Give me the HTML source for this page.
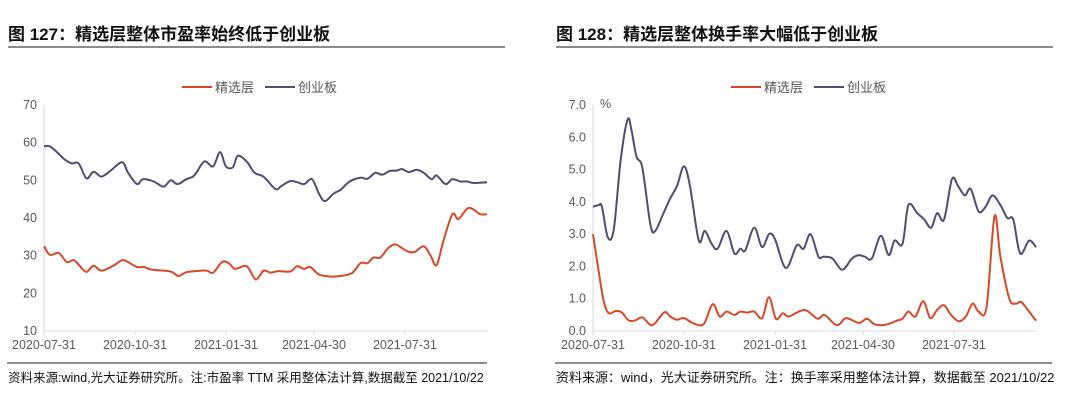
<!DOCTYPE html>
<html><head><meta charset="utf-8">
<style>
body{margin:0;background:#fff;width:1080px;height:410px;overflow:hidden;font-family:"Liberation Sans","Noto Sans CJK SC",sans-serif;}
.t{position:absolute;font-size:17px;font-weight:bold;color:#111;white-space:nowrap;}
.f{position:absolute;font-size:13px;color:#111;white-space:nowrap;}
.hr{position:absolute;height:2px;background:#8c8c8c;}
svg{position:absolute;left:0;top:0}
</style></head><body>
<div class="t" style="left:8px;top:20px">图 127：精选层整体市盈率始终低于创业板</div>
<div class="hr" style="left:8px;top:46px;width:497px"></div>
<div class="t" style="left:556px;top:20px">图 128：精选层整体换手率大幅低于创业板</div>
<div class="hr" style="left:556px;top:46px;width:497px"></div>
<div class="hr" style="left:7px;top:362px;width:480px"></div>
<div class="hr" style="left:555px;top:362px;width:497px"></div>
<div class="f" style="left:8px;top:367px;font-size:12.5px">资料来源:wind,光大证券研究所。注:市盈率 TTM 采用整体法计算,数据截至 2021/10/22</div>
<div class="f" style="left:556px;top:367px">资料来源：wind，光大证券研究所。注：换手率采用整体法计算，数据截至 2021/10/22</div>
<svg id="svg" width="1080" height="410"></svg>
<script>
const xTickLabels=["2020-07-31","2020-10-31","2021-01-31","2021-04-30","2021-07-31"];
const xTickDays=[0,92,184,273,365];
const leftYTicks=[10,20,30,40,50,60,70];
const rightYTicks=[0,1,2,3,4,5,6,7];
const leftBlueDays=[0,6,13,21,28,35,43,50,58,67,79,85,94,100,111,121,128,135,144,152,162,171,178,184,191,196,205,213,222,234,240,249,256,263,271,278,284,293,300,309,320,327,335,342,350,357,362,369,377,384,392,397,406,413,421,428,434,448];
const leftBlue=[59,59,57.5,55.5,54.5,54.5,50.5,52.3,51,52.5,54.8,52,49,50.3,49.7,48.3,50,49,50.3,51.3,55,53.7,57.5,53.7,53.5,56.5,55,52,51,47.7,48.5,49.8,49.5,49,50.3,46.5,44.5,46.5,47.5,49.7,50.7,50.4,52,51.5,52.5,52.6,53,52.2,52.8,52,50.3,51.3,49,50.3,49.7,49.7,49.3,49.5];
const leftRedDays=[0,6,15,23,30,36,43,50,58,70,79,85,94,101,109,128,136,144,158,165,171,180,187,193,205,214,222,229,237,249,256,263,269,278,288,296,311,320,327,333,340,348,355,362,369,375,384,391,397,404,413,419,428,434,441,448];
const leftRed=[32.5,30.2,30.7,28.3,28.8,27.3,25.7,27.3,26,27.3,28.8,28.3,27,27,26.3,25.8,24.6,25.6,26,26,25.5,28.3,28,26.5,27.2,23.7,26,25.5,25.9,25.8,27.2,26.5,27,25,24.5,24.5,25.3,28,28,29.5,29.5,32,33,32,31,31,32.5,30,27.5,34,41,39.7,42.5,42.3,41,41];
const rightBlueDays=[0,6,9,15,21,28,35,39,44,50,58,63,72,78,85,92,98,107,113,120,126,135,143,149,154,163,171,178,184,195,206,213,220,228,233,242,252,262,269,275,282,291,299,305,313,319,328,335,342,348,355,363,369,376,382,390,397,404,412,419,425,432,441,448];
const rightBlue=[3.85,3.9,3.85,2.9,3.15,5.3,6.55,6.2,5.4,5.05,3.3,3.1,3.7,4.1,4.5,5.1,4.5,2.8,3.1,2.7,2.55,3.1,2.4,2.55,2.5,3.2,2.6,3.0,2.85,1.95,2.65,2.55,3.0,2.3,2.3,2.25,1.9,2.25,2.35,2.3,2.25,2.95,2.35,2.8,2.7,3.9,3.65,3.45,3.2,3.65,3.45,4.7,4.5,4.2,4.4,3.7,3.85,4.2,3.9,3.5,3.45,2.4,2.8,2.6];
const rightRedDays=[0,6,11,16,23,29,36,43,50,60,72,78,85,92,102,112,121,128,135,143,149,156,163,171,178,185,192,198,214,227,234,244,249,256,269,277,284,291,299,308,313,319,326,334,341,348,355,362,370,377,384,390,398,406,412,421,428,433,441,448];
const rightRed=[3.0,1.8,0.9,0.55,0.62,0.58,0.33,0.33,0.42,0.18,0.58,0.45,0.35,0.4,0.23,0.22,0.83,0.45,0.6,0.5,0.6,0.57,0.6,0.4,1.05,0.38,0.55,0.45,0.65,0.38,0.5,0.22,0.2,0.4,0.25,0.38,0.22,0.18,0.22,0.33,0.38,0.6,0.45,0.92,0.4,0.65,0.8,0.5,0.3,0.45,0.85,0.6,0.75,3.55,2.3,1.0,0.85,0.9,0.6,0.32];

const NS="http://www.w3.org/2000/svg";
const svg=document.getElementById('svg');
function mk(tag,attrs){const e=document.createElementNS(NS,tag);for(const k in attrs)e.setAttribute(k,attrs[k]);svg.appendChild(e);return e;}
function smooth(pts){let d="M"+pts[0][0]+","+pts[0][1];for(let i=0;i<pts.length-1;i++){const p0=pts[i-1]||pts[i],p1=pts[i],p2=pts[i+1],p3=pts[i+2]||p2;const c1x=p1[0]+(p2[0]-p0[0])/6,c1y=p1[1]+(p2[1]-p0[1])/6,c2x=p2[0]-(p3[0]-p1[0])/6,c2y=p2[1]-(p3[1]-p1[1])/6;d+=` C${c1x.toFixed(1)},${c1y.toFixed(1)} ${c2x.toFixed(1)},${c2y.toFixed(1)} ${p2[0].toFixed(1)},${p2[1].toFixed(1)}`;}return d;}
function chart(o){
  const x=d=>o.x0+d/448*(o.x1-o.x0);
  const y=v=>o.y1-(v-o.ymin)/(o.ymax-o.ymin)*(o.y1-o.y0);
  let a=mk('line',{x1:o.x0,y1:o.y0,x2:o.x0,y2:o.y1,stroke:'#d9d9d9','stroke-width':1});
  
  a=mk('line',{x1:o.x0,y1:o.y1,x2:o.x1,y2:o.y1,stroke:'#d9d9d9','stroke-width':1});
  
  o.yt.forEach(v=>{const t=mk('text',{x:o.x0-7,y:y(v)+4,'text-anchor':'end','font-size':12.5,fill:'#595959'});t.textContent=o.fmt(v);
    });
  xTickDays.forEach((d,i)=>{const tk=mk('line',{x1:x(d),y1:o.y1,x2:x(d),y2:o.y1+4,stroke:'#d9d9d9'});
    
    const t=mk('text',{x:x(d),y:o.y1+18,'text-anchor':'middle','font-size':12.5,fill:'#595959'});t.textContent=xTickLabels[i];
    });
  o.series.forEach(s=>{const pts=s.d.map((d,i)=>[x(d),y(s.v[i])]);
    const p=mk('path',{d:smooth(pts),fill:'none',stroke:s.c,'stroke-width':2,'stroke-linejoin':'round'});
    });
  [['#d5482a','精选层',o.lx],['#4f4d73','创业板',o.lx+83]].forEach(l=>{
    const ln=mk('line',{x1:l[2],y1:87,x2:l[2]+30,y2:87,stroke:l[0],'stroke-width':2});
    
    const t=mk('text',{x:l[2]+33,y:92,'font-size':13,fill:'#595959'});t.textContent=l[1];
    });
  if(o.unit){const t=mk('text',{x:o.x0+7,y:108,'font-size':12.5,fill:'#595959'});t.textContent=o.unit;
    }
}
chart({p:'pe-',x0:44,x1:487,y0:105,y1:331,ymin:10,ymax:70,yt:leftYTicks,fmt:v=>String(v),lx:182,
  series:[{n:'chinext-line',d:leftBlueDays,v:leftBlue,c:'#4f4d73'},{n:'select-tier-line',d:leftRedDays,v:leftRed,c:'#d5482a'}]});
chart({p:'turnover-',x0:593,x1:1036,y0:105,y1:331,ymin:0,ymax:7,yt:rightYTicks,fmt:v=>v.toFixed(1),lx:731,unit:'%',
  series:[{n:'chinext-line',d:rightBlueDays,v:rightBlue,c:'#4f4d73'},{n:'select-tier-line',d:rightRedDays,v:rightRed,c:'#d5482a'}]});
</script>
</body></html>
